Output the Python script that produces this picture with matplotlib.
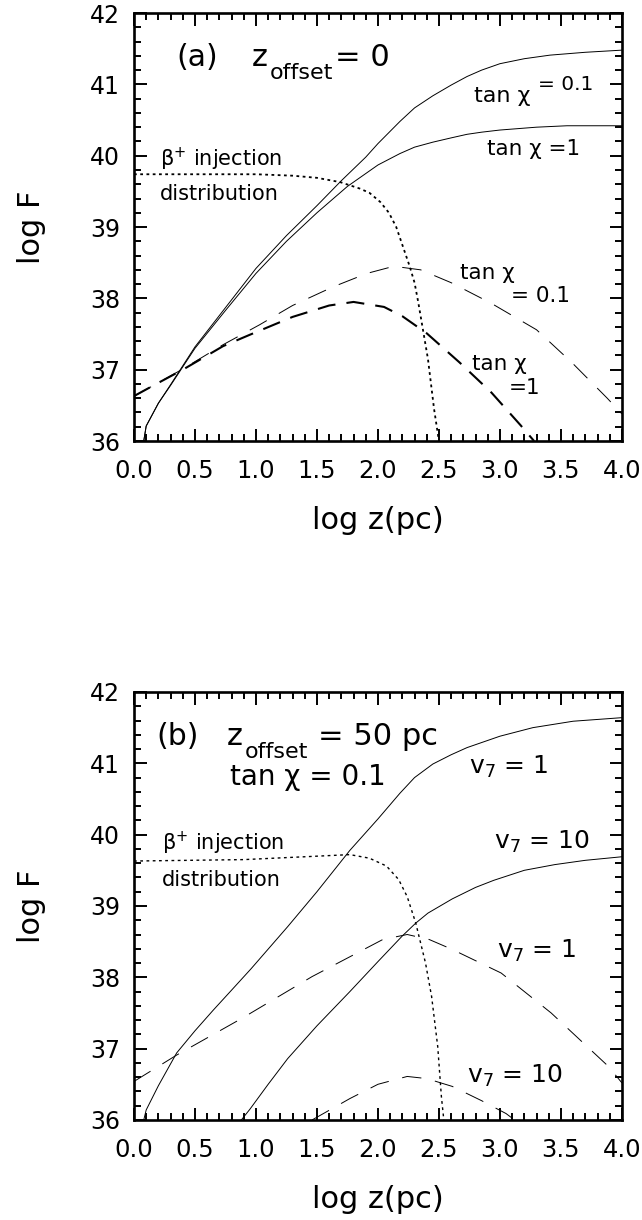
import matplotlib
matplotlib.use('Agg')
import matplotlib.pyplot as plt
from matplotlib.ticker import MultipleLocator, FormatStrFormatter

plt.rcParams['font.family'] = ['DejaVu Sans']
plt.rcParams['mathtext.fontset'] = 'dejavusans'
plt.rcParams['lines.scale_dashes'] = False

# ---------------- panel (a): z_offset = 0 ----------------
a_sol01_x = [0.08, 0.10, 0.20, 0.30, 0.50, 0.75, 1.00, 1.25, 1.50, 1.70, 1.90, 2.00, 2.18, 2.30, 2.45, 2.60, 2.73, 2.85, 3.00, 3.20, 3.41, 3.70, 4.00]
a_sol01_y = [36.00, 36.21, 36.53, 36.79, 37.32, 37.87, 38.42, 38.88, 39.30, 39.65, 39.98, 40.17, 40.48, 40.67, 40.84, 40.99, 41.11, 41.20, 41.29, 41.36, 41.41, 41.45, 41.48]
a_sol1_x = [0.08, 0.10, 0.20, 0.30, 0.50, 0.75, 1.00, 1.25, 1.50, 1.75, 2.00, 2.18, 2.30, 2.45, 2.60, 2.73, 2.85, 3.00, 3.30, 3.55, 4.00]
a_sol1_y = [36.00, 36.21, 36.53, 36.78, 37.30, 37.83, 38.35, 38.80, 39.20, 39.57, 39.87, 40.03, 40.12, 40.19, 40.25, 40.30, 40.33, 40.36, 40.40, 40.42, 40.42]
a_dot_x = [0.00, 1.00, 1.30, 1.50, 1.69, 1.85, 1.93, 2.02, 2.09, 2.15, 2.21, 2.26, 2.30, 2.33, 2.37, 2.41, 2.46, 2.50]
a_dot_y = [39.74, 39.74, 39.72, 39.69, 39.63, 39.54, 39.48, 39.35, 39.20, 39.00, 38.70, 38.45, 38.22, 37.95, 37.55, 37.15, 36.45, 36.00]
a_dash01_x = [0.00, 0.15, 0.40, 0.73, 1.03, 1.30, 1.63, 1.91, 2.13, 2.35, 2.60, 2.93, 3.30, 3.59, 3.88, 4.00]
a_dash01_y = [36.63, 36.77, 37.01, 37.35, 37.63, 37.90, 38.16, 38.35, 38.45, 38.40, 38.22, 37.93, 37.56, 37.10, 36.60, 36.38]
a_dash1_x = [0.00, 0.15, 0.40, 0.73, 0.95, 1.30, 1.60, 1.80, 2.05, 2.20, 2.40, 2.67, 2.93, 3.17, 3.28]
a_dash1_y = [36.63, 36.77, 37.00, 37.33, 37.49, 37.74, 37.90, 37.95, 37.88, 37.75, 37.51, 37.10, 36.68, 36.22, 36.00]

# ---------------- panel (b): z_offset = 50 pc, tan chi = 0.1 ----------------
b_sol1_x = [0.08, 0.10, 0.20, 0.35, 0.50, 0.65, 0.80, 0.96, 1.26, 1.50, 1.77, 2.00, 2.18, 2.30, 2.45, 2.60, 2.73, 3.00, 3.27, 3.60, 4.00]
b_sol1_y = [36.00, 36.14, 36.48, 36.94, 37.25, 37.54, 37.82, 38.12, 38.71, 39.20, 39.78, 40.22, 40.58, 40.80, 40.99, 41.12, 41.22, 41.38, 41.50, 41.59, 41.64]
b_sol10_x = [0.88, 0.95, 1.10, 1.26, 1.50, 1.77, 2.00, 2.20, 2.31, 2.41, 2.61, 2.80, 2.95, 3.20, 3.45, 3.70, 4.00]
b_sol10_y = [36.00, 36.15, 36.50, 36.86, 37.32, 37.80, 38.22, 38.58, 38.76, 38.90, 39.10, 39.26, 39.36, 39.50, 39.58, 39.64, 39.69]
b_dot_x = [0.00, 0.90, 1.40, 1.77, 1.93, 2.07, 2.17, 2.24, 2.31, 2.39, 2.44, 2.49, 2.52, 2.54]
b_dot_y = [39.63, 39.65, 39.69, 39.72, 39.67, 39.56, 39.37, 39.13, 38.76, 38.20, 37.73, 37.03, 36.33, 36.00]
b_dash1_x = [0.00, 0.35, 0.89, 1.46, 2.04, 2.24, 2.42, 2.61, 3.01, 3.42, 3.89, 4.00]
b_dash1_y = [36.54, 36.91, 37.43, 38.01, 38.53, 38.60, 38.53, 38.39, 38.06, 37.50, 36.75, 36.52]
b_dash10_x = [1.46, 1.77, 2.00, 2.24, 2.40, 2.61, 2.85, 3.05, 3.12]
b_dash10_y = [36.00, 36.30, 36.50, 36.61, 36.58, 36.47, 36.27, 36.09, 36.00]

THIN_DASH = (0, (14, 10))
THICK_DASH = (0, (13, 8))
DOTS = (0, (2, 2.5))


def style_axes(ax):
    ax.set_xlim(0, 4)
    ax.set_ylim(36, 42)
    ax.xaxis.set_major_locator(MultipleLocator(0.5))
    ax.xaxis.set_minor_locator(MultipleLocator(0.1))
    ax.yaxis.set_major_locator(MultipleLocator(1))
    ax.yaxis.set_minor_locator(MultipleLocator(0.2))
    ax.xaxis.set_major_formatter(FormatStrFormatter('%.1f'))
    ax.tick_params(which='both', direction='in', top=True, right=True,
                   width=1.4, color='black')
    ax.tick_params(which='major', length=9)
    ax.tick_params(which='minor', length=5)
    ax.tick_params(axis='x', labelsize=17.5, pad=13)
    ax.tick_params(axis='y', labelsize=17, pad=10)
    for s in ax.spines.values():
        s.set_linewidth(1.9)
    ax.set_xlabel('log z(pc)', fontsize=22)
    ax.set_ylabel('log F', fontsize=22)
    ax.xaxis.label.set_va('baseline')
    ax.yaxis.label.set_va('center')
    ax.xaxis.set_label_coords(0.5, -0.205)
    ax.yaxis.set_label_coords(-0.211, 0.5)


fig = plt.figure(figsize=(6.42, 12.2), dpi=100)
ax1 = fig.add_axes([0.2087, 0.6385, 0.760, 0.3508])
ax2 = fig.add_axes([0.2087, 0.0820, 0.760, 0.3508])

# panel (a)
ax1.plot(a_sol01_x, a_sol01_y, color='black', lw=0.7)
ax1.plot(a_sol1_x, a_sol1_y, color='black', lw=0.7)
ax1.plot(a_dot_x, a_dot_y, color='black', lw=1.3, linestyle=DOTS)
ax1.plot(a_dash01_x, a_dash01_y, color='black', lw=0.7, linestyle=THIN_DASH)
ax1.plot(a_dash1_x, a_dash1_y, color='black', lw=1.5, linestyle=THICK_DASH)
style_axes(ax1)

ax1.text(0.35, 41.26, '(a)', fontsize=21.5, va='baseline')
ax1.text(0.964, 41.26, 'z', fontsize=22, va='baseline')
ax1.text(1.11, 41.07, 'offset', fontsize=16, va='baseline')
ax1.text(1.65, 41.26, '= 0', fontsize=22, va='baseline')
ax1.text(2.79, 40.76, 'tan χ', fontsize=16, va='baseline')
ax1.text(3.31, 40.92, '= 0.1', fontsize=14.5, va='baseline')
ax1.text(2.89, 40.01, 'tan χ =1', fontsize=15.5, va='baseline')
ax1.text(0.21, 39.95, r'β$^{+}$ injection', fontsize=15, va='center')
ax1.text(0.21, 39.46, 'distribution', fontsize=15, va='center')
ax1.text(2.67, 38.36, 'tan χ', fontsize=15.5, va='center')
ax1.text(3.09, 38.03, '= 0.1', fontsize=15.5, va='center')
ax1.text(2.77, 37.08, 'tan χ', fontsize=15.5, va='center')
ax1.text(3.07, 36.75, '=1', fontsize=15.5, va='center')

# panel (b)
ax2.plot(b_sol1_x, b_sol1_y, color='black', lw=0.7)
ax2.plot(b_sol10_x, b_sol10_y, color='black', lw=0.7)
ax2.plot(b_dot_x, b_dot_y, color='black', lw=1.0, linestyle=DOTS)
ax2.plot(b_dash1_x, b_dash1_y, color='black', lw=0.7, linestyle=THIN_DASH)
ax2.plot(b_dash10_x, b_dash10_y, color='black', lw=0.7, linestyle=THIN_DASH)
style_axes(ax2)

ax2.text(0.186, 41.26, '(b)', fontsize=21.5, va='baseline')
ax2.text(0.758, 41.26, 'z', fontsize=22, va='baseline')
ax2.text(0.91, 41.07, 'offset', fontsize=16, va='baseline')
ax2.text(1.51, 41.26, '= 50 pc', fontsize=22, va='baseline')
ax2.text(0.787, 40.70, 'tan χ = 0.1', fontsize=20, va='baseline')
ax2.text(0.23, 39.88, r'β$^{+}$ injection', fontsize=15, va='center')
ax2.text(0.23, 39.37, 'distribution', fontsize=15, va='center')
ax2.text(2.75, 40.85, r'v$_7$ = 1', fontsize=18, va='baseline')
ax2.text(2.95, 39.80, r'v$_7$ = 10', fontsize=18, va='baseline')
ax2.text(2.98, 38.27, r'v$_7$ = 1', fontsize=18, va='baseline')
ax2.text(2.73, 36.52, r'v$_7$ = 10', fontsize=18, va='baseline')

fig.savefig('out.png', dpi=100)
